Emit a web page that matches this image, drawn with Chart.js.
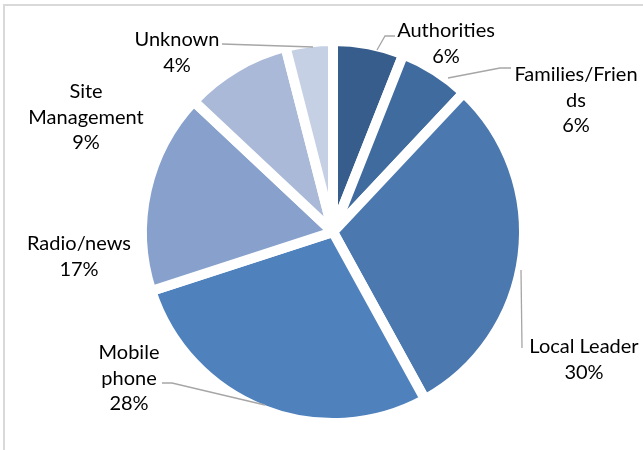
<!DOCTYPE html>
<html>
<head>
<meta charset="utf-8">
<script src="https://cdn.jsdelivr.net/npm/chart.js@4/dist/chart.umd.min.js"></script>
<style>
  html, body { margin: 0; padding: 0; background: #fff; }
  #wrap { position: relative; width: 643px; height: 450px; overflow: hidden; }
  #frame { position: absolute; left: 3px; top: 4px; width: 700px; height: 500px; border: 2px solid #d9d9d9; box-sizing: border-box; }
  #chart { position: absolute; left: 0; top: 0; }
</style>
</head>
<body>
<div id="wrap">
  <div id="frame"></div>
  <canvas id="chart" width="643" height="450"></canvas>
</div>
<script>
// data
const categories = ['Authorities', 'Families/Friends', 'Local Leader', 'Mobile phone', 'Radio/news', 'Site Management', 'Unknown'];
const values = [6, 6, 30, 28, 17, 9, 4];
const colors = ['#365d8b', '#3f6b9f', '#4a78af', '#4f81bd', '#87a1cc', '#aab9d8', '#c5d0e4'];

// label text lines (as wrapped in the picture) and where they sit
const labelLines = [
  ['Authorities'],
  ['Families/Frien', 'ds'],
  ['Local Leader'],
  ['Mobile', 'phone'],
  ['Radio/news'],
  ['Site', 'Management'],
  ['Unknown']
];
const labelPos = [[446, 31], [576, 75], [584, 347], [129, 353], [79, 244], [86, 92], [177, 40]];
const leaders = [
  [[377, 50], [385, 36], [395, 36]],
  [[448, 78], [500, 68], [511, 68]],
  [[521, 270], [522, 348]],
  [[162, 383], [172, 383], [265, 405]],
  null,
  null,
  [[222, 44], [313, 47]]
];

const total = values.reduce((s, v) => s + v, 0);

const labelPlugin = {
  id: 'pieLabels',
  afterDatasetsDraw(chart) {
    const ctx = chart.ctx;
    ctx.save();
    // leader lines
    ctx.strokeStyle = '#a6a6a6';
    ctx.lineWidth = 1.3;
    leaders.forEach(pts => {
      if (!pts) return;
      ctx.beginPath();
      pts.forEach((p, i) => i ? ctx.lineTo(p[0], p[1]) : ctx.moveTo(p[0], p[1]));
      ctx.stroke();
    });
    // text
    ctx.fillStyle = '#000';
    ctx.font = '20px Lato';
    ctx.textAlign = 'center';
    ctx.textBaseline = 'middle';
    const lh = 25.5;
    values.forEach((v, i) => {
      const lines = labelLines[i].concat([Math.round(v / total * 100) + '%']);
      const [x, y] = labelPos[i];
      lines.forEach((t, j) => ctx.fillText(t, x, y + j * lh));
    });
    ctx.restore();
  }
};

new Chart(document.getElementById('chart'), {
  type: 'pie',
  data: {
    labels: categories,
    datasets: [{
      data: values,
      backgroundColor: colors,
      borderColor: '#fff',
      borderWidth: 10,
      radius: 191
    }]
  },
  options: {
    responsive: false,
    animation: false,
    events: [],
    layout: { padding: { left: 40, right: 17, top: 20, bottom: 6 } },
    plugins: { legend: { display: false }, tooltip: { enabled: false } }
  },
  plugins: [labelPlugin]
});
</script>
</body>
</html>
